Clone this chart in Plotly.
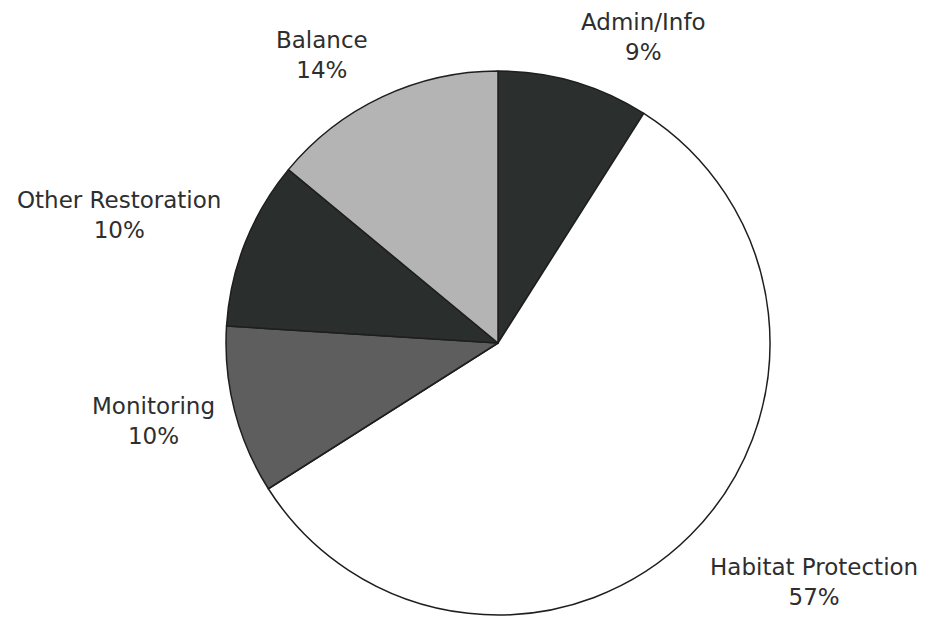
import plotly.graph_objects as go

categories = ["Admin/Info", "Habitat Protection", "Monitoring", "Other Restoration", "Balance"]
shares = [9, 57, 10, 10, 14]
slice_colors = ["#2b302f", "#ffffff", "#5e5e5e", "#2a2e2c", "#b4b4b4"]

# label placement (pixel centres in the 930x621 picture)
label_px = {
    "Admin/Info": (643, 37),
    "Balance": (322, 55),
    "Other Restoration": (119, 215),
    "Monitoring": (153, 421),
    "Habitat Protection": (814, 582),
}

W, H = 930, 621

fig = go.Figure(
    go.Pie(
        labels=categories,
        values=shares,
        sort=False,
        direction="clockwise",
        rotation=0,
        textinfo="none",
        hoverinfo="label+percent",
        marker=dict(colors=slice_colors, line=dict(color="#1e1e1e", width=1.5)),
        domain=dict(x=[(498 - 272) / W, (498 + 272) / W], y=[1 - 615 / H, 1 - 71 / H]),
        showlegend=False,
    )
)

for cat, val in zip(categories, shares):
    px, py = label_px[cat]
    fig.add_annotation(
        x=px / W, y=1 - py / H, xref="paper", yref="paper",
        text=f"{cat}<br>{val}%", showarrow=False,
        xanchor="center", yanchor="middle",
        font=dict(family="DejaVu Sans, Arial, sans-serif", size=23, color="#2e2e2e"),
    )

fig.update_layout(
    width=W, height=H,
    margin=dict(l=0, r=0, t=0, b=0),
    paper_bgcolor="white", plot_bgcolor="white",
)

fig.write_html("out.html")
